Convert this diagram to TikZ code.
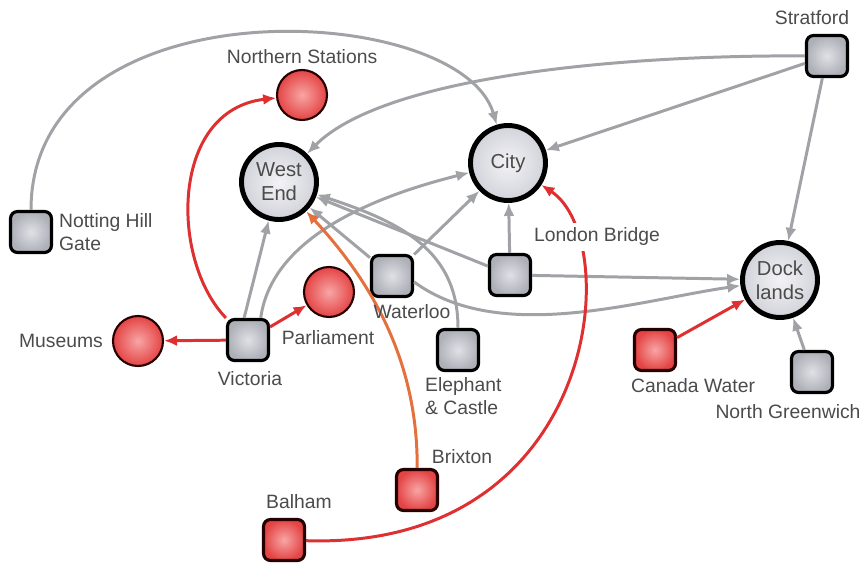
\documentclass[tikz,border=0pt]{standalone}
\usepackage{fontspec}
\setmainfont{Liberation Sans}
\usetikzlibrary{arrows.meta}
\usetikzlibrary{positioning}

\definecolor{txtgray}{RGB}{75,75,75}
\definecolor{edgegray}{RGB}{160,162,166}
\definecolor{edgered}{RGB}{222,48,48}
\definecolor{edgeorange}{RGB}{228,112,62}
\definecolor{hubin}{RGB}{243,243,246}
\definecolor{hubout}{RGB}{210,211,218}
\definecolor{stnin}{RGB}{224,225,230}
\definecolor{stnout}{RGB}{174,176,184}
\definecolor{redin}{RGB}{248,165,165}
\definecolor{redout}{RGB}{228,68,68}

\begin{document}
\begin{tikzpicture}[x=0.02cm, y=-0.02cm]

	\tikzset{HubStyle/.style = {shape = circle, draw = black,
			line width = 2.8pt, minimum size = 1.5cm, inner sep = 0pt,
			inner color = hubin, outer color = hubout,
			text = txtgray, align = center,
			font = \fontsize{11.5}{13.5}\selectfont}}
	\tikzset{StationStyle/.style = {shape = rectangle, rounded corners = 4pt,
			draw = black, line width = 1.8pt, minimum size = 0.82cm,
			inner color = stnin, outer color = stnout}}
	\tikzset{RedStationStyle/.style = {StationStyle, draw = black!85!red,
			inner color = redin, outer color = redout}}
	\tikzset{SpotStyle/.style = {shape = circle, draw = black!85!red,
			line width = 1.2pt, minimum size = 1cm,
			inner color = redin, outer color = redout}}
	\tikzset{LabelStyle/.style = {text = txtgray, inner sep = 1pt,
			font = \fontsize{11}{13.5}\selectfont}}
	\tikzset{EdgeStyle/.style = {draw = edgegray, line width = 1.7pt,
			-{Latex[length=2.6mm, width=2.2mm]}}}
	\tikzset{RedEdgeStyle/.style = {EdgeStyle, draw = edgered}}

	\useasboundingbox (0,0) rectangle (860,568);

	% hubs
	\node[HubStyle](west) at (279,182){West\\End};
	\node[HubStyle](city) at (508,163){City};
	\node[HubStyle](dock) at (780,280){Dock\\lands};

	% stations
	\node[StationStyle](strat) at (827,56){};
	\node[StationStyle](notting) at (31,232){};
	\node[StationStyle](victoria) at (248,340){};
	\node[StationStyle](waterloo) at (392,276){};
	\node[StationStyle](elephant) at (458,350){};
	\node[StationStyle](lbridge) at (510,275){};
	\node[StationStyle](ngreen) at (812,372){};
	\node[RedStationStyle](canada) at (655,350){};
	\node[RedStationStyle](brixton) at (417,490){};
	\node[RedStationStyle](balham) at (284,540){};
	\node[SpotStyle](north) at (302,95){};
	\node[SpotStyle](museums) at (138,341){};
	\node[SpotStyle](parl) at (329,292){};

	% grey edges
	\draw[EdgeStyle](notting) .. controls (31,-20) and (460,0) .. (city);
	\draw[EdgeStyle](strat) .. controls (600,55) and (380,80) .. (west);
	\draw[EdgeStyle](strat) -- (city);
	\draw[EdgeStyle](strat) -- (dock);
	\draw[EdgeStyle](victoria.100) -- (west.255);
	\draw[EdgeStyle](victoria.60) .. controls (272,235) and (380,195) .. (city);
	\draw[EdgeStyle](waterloo) -- (city);
	\draw[EdgeStyle](waterloo) -- (west);
	\draw[EdgeStyle](waterloo.-15) .. controls (500,345) and (640,300) .. (dock);
	\draw[EdgeStyle](elephant) .. controls (458,250) and (400,222) .. (west);
	\draw[EdgeStyle](lbridge) -- (city);
	\draw[EdgeStyle](lbridge) -- (dock);
	\draw[EdgeStyle](lbridge) -- (west);
	\draw[EdgeStyle](ngreen) -- (dock);

	% red edges
	\draw[RedEdgeStyle](victoria.north west) .. controls (170,260) and (170,110) .. (north);
	\draw[RedEdgeStyle](victoria) -- (museums);
	\draw[RedEdgeStyle](victoria) -- (parl);
	\draw[RedEdgeStyle](canada) -- (dock);
	\draw[RedEdgeStyle, draw = edgeorange](brixton) .. controls (418,360) and (370,280) .. (west);
	\draw[RedEdgeStyle](balham) .. controls (600,550) and (625,240) .. (city);

	% labels
	\node[LabelStyle, above=2pt of north](northlbl){Northern Stations};
	\node[LabelStyle, left=4pt of museums](museumslbl){Museums};
	\node[LabelStyle] (stratlbl) at (812,18){Stratford};
	\node[LabelStyle, anchor=west, align=left] (nottinglbl) at (57,232){Notting Hill\\Gate};
	\node[LabelStyle] (victorialbl) at (250,379){Victoria};
	\node[LabelStyle] (parllbl) at (328,338){Parliament};
	\node[LabelStyle] (waterloolbl) at (412,312){Waterloo};
	\node[LabelStyle, anchor=west, align=left] (elephantlbl) at (423,396){Elephant\\\& Castle};
	\node[LabelStyle, fill=white, inner sep=3pt] (lbridgelbl) at (597,237){London Bridge};
	\node[LabelStyle] (canadalbl) at (693,386){Canada Water};
	\node[LabelStyle] (ngreenlbl) at (788,412){North Greenwich};
	\node[LabelStyle] (brixtonlbl) at (462,457){Brixton};
	\node[LabelStyle] (balhamlbl) at (299,502){Balham};

\end{tikzpicture}
\end{document}
